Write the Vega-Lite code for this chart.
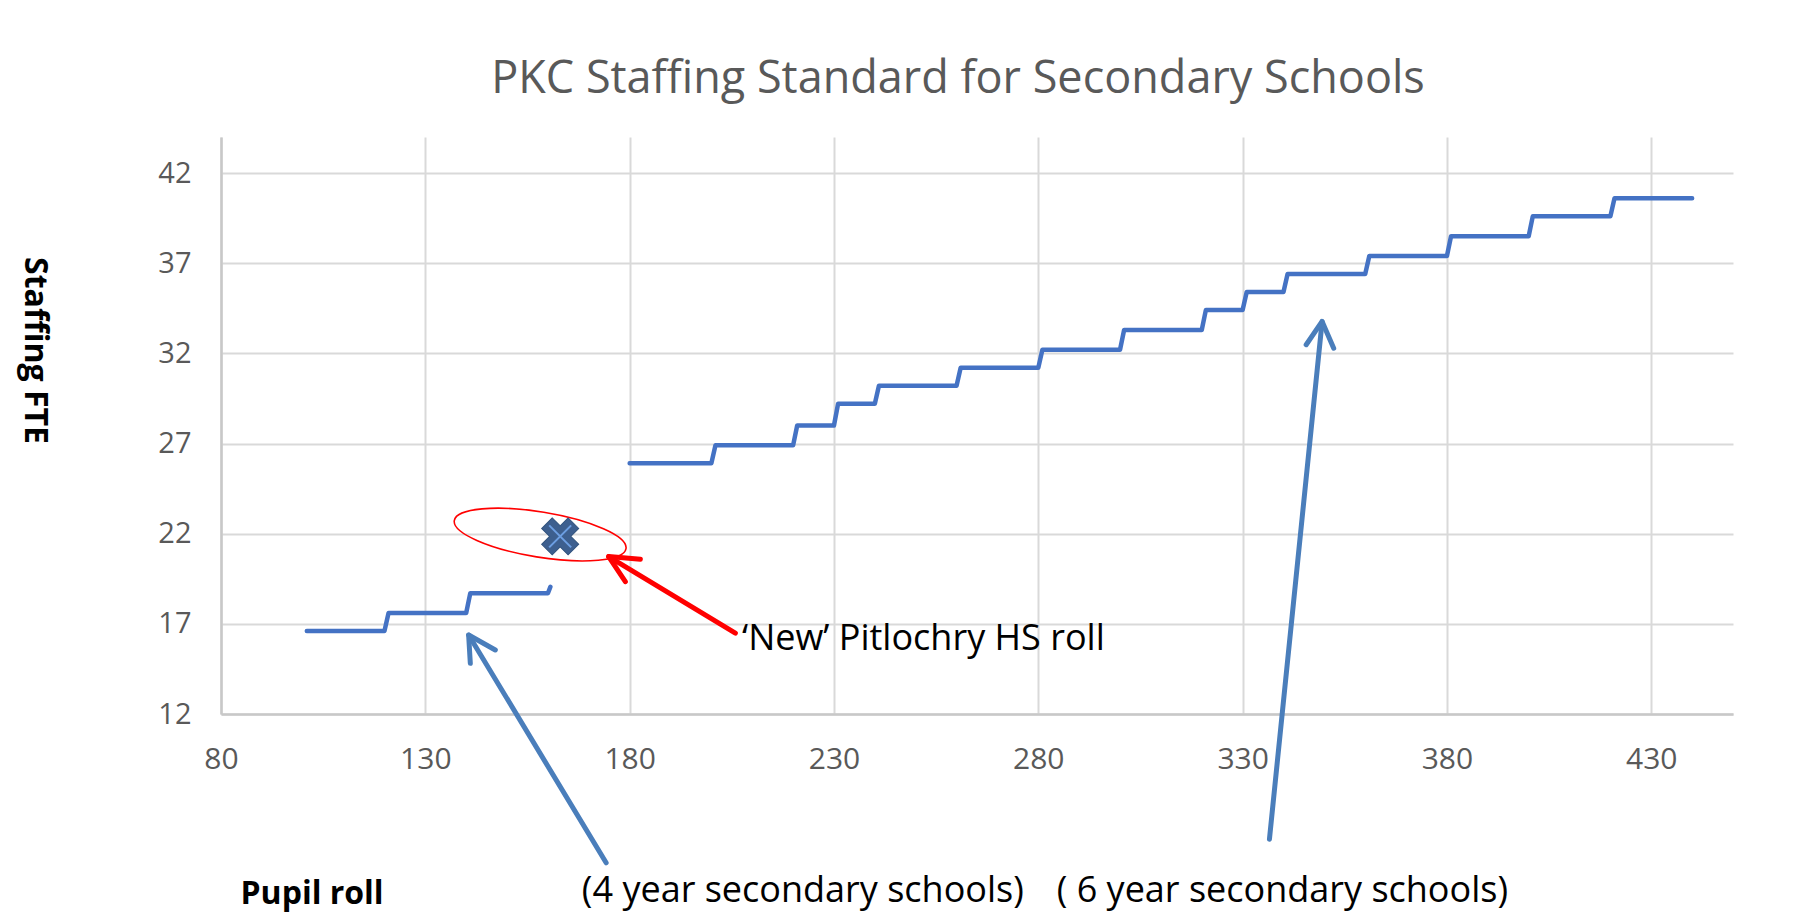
{
  "$schema": "https://vega.github.io/schema/vega-lite/v6.json",
  "width": 1512,
  "height": 577,
  "autosize": {"type": "none"},
  "padding": {"left": 221, "top": 137, "right": 69, "bottom": 201},
  "background": "white",
  "config": {"view": {"stroke": null}, "font": "Open Sans"},
  "title": {
    "text": "PKC Staffing Standard for Secondary Schools",
    "font": "Open Sans",
    "fontSize": 45,
    "fontWeight": "normal",
    "color": "#595959",
    "anchor": "middle",
    "frame": "group",
    "baseline": "alphabetic",
    "offset": -1,
    "dx": -19
  },
  "datasets": {
    "staffing": [
      {"series": "4 year secondary schools", "roll": 101, "fte": 16.6},
      {"series": "4 year secondary schools", "roll": 120, "fte": 16.6},
      {"series": "4 year secondary schools", "roll": 121, "fte": 17.6},
      {"series": "4 year secondary schools", "roll": 140, "fte": 17.6},
      {"series": "4 year secondary schools", "roll": 141, "fte": 18.7},
      {"series": "4 year secondary schools", "roll": 160, "fte": 18.7},
      {"series": "4 year secondary schools", "roll": 160.6, "fte": 19.05},
      {"series": "6 year secondary schools", "roll": 180, "fte": 25.9},
      {"series": "6 year secondary schools", "roll": 200, "fte": 25.9},
      {"series": "6 year secondary schools", "roll": 201, "fte": 26.9},
      {"series": "6 year secondary schools", "roll": 220, "fte": 26.9},
      {"series": "6 year secondary schools", "roll": 221, "fte": 28.0},
      {"series": "6 year secondary schools", "roll": 230, "fte": 28.0},
      {"series": "6 year secondary schools", "roll": 231, "fte": 29.2},
      {"series": "6 year secondary schools", "roll": 240, "fte": 29.2},
      {"series": "6 year secondary schools", "roll": 241, "fte": 30.2},
      {"series": "6 year secondary schools", "roll": 260, "fte": 30.2},
      {"series": "6 year secondary schools", "roll": 261, "fte": 31.2},
      {"series": "6 year secondary schools", "roll": 280, "fte": 31.2},
      {"series": "6 year secondary schools", "roll": 281, "fte": 32.2},
      {"series": "6 year secondary schools", "roll": 300, "fte": 32.2},
      {"series": "6 year secondary schools", "roll": 301, "fte": 33.3},
      {"series": "6 year secondary schools", "roll": 320, "fte": 33.3},
      {"series": "6 year secondary schools", "roll": 321, "fte": 34.4},
      {"series": "6 year secondary schools", "roll": 330, "fte": 34.4},
      {"series": "6 year secondary schools", "roll": 331, "fte": 35.4},
      {"series": "6 year secondary schools", "roll": 340, "fte": 35.4},
      {"series": "6 year secondary schools", "roll": 341, "fte": 36.4},
      {"series": "6 year secondary schools", "roll": 360, "fte": 36.4},
      {"series": "6 year secondary schools", "roll": 361, "fte": 37.4},
      {"series": "6 year secondary schools", "roll": 380, "fte": 37.4},
      {"series": "6 year secondary schools", "roll": 381, "fte": 38.5},
      {"series": "6 year secondary schools", "roll": 400, "fte": 38.5},
      {"series": "6 year secondary schools", "roll": 401, "fte": 39.6},
      {"series": "6 year secondary schools", "roll": 420, "fte": 39.6},
      {"series": "6 year secondary schools", "roll": 421, "fte": 40.6},
      {"series": "6 year secondary schools", "roll": 440, "fte": 40.6}
    ],
    "pitlochry": [
      {"school": "New Pitlochry HS", "roll": 163, "fte": 21.85}
    ],
    "highlight": [
      {"school": "New Pitlochry HS", "roll": 158.1, "fte": 21.95}
    ],
    "arrows": [
      {"arrow": "pitlochry", "segment": "p-shaft", "seq": 1, "roll": 205.87, "fte": 16.48},
      {"arrow": "pitlochry", "segment": "p-shaft", "seq": 2, "roll": 174.86, "fte": 20.73},
      {"arrow": "pitlochry", "segment": "p-head", "seq": 1, "roll": 182.62, "fte": 20.58},
      {"arrow": "pitlochry", "segment": "p-head", "seq": 2, "roll": 174.86, "fte": 20.73},
      {"arrow": "pitlochry", "segment": "p-head", "seq": 3, "roll": 178.95, "fte": 19.34},
      {"arrow": "four", "segment": "f-shaft", "seq": 1, "roll": 174.25, "fte": 3.75},
      {"arrow": "four", "segment": "f-shaft", "seq": 2, "roll": 140.6, "fte": 16.38},
      {"arrow": "four", "segment": "f-head", "seq": 1, "roll": 141.01, "fte": 14.81},
      {"arrow": "four", "segment": "f-head", "seq": 2, "roll": 140.6, "fte": 16.38},
      {"arrow": "four", "segment": "f-head", "seq": 3, "roll": 147.13, "fte": 15.55},
      {"arrow": "six", "segment": "s-shaft", "seq": 1, "roll": 336.56, "fte": 5.05},
      {"arrow": "six", "segment": "s-shaft", "seq": 2, "roll": 349.45, "fte": 33.77},
      {"arrow": "six", "segment": "s-head", "seq": 1, "roll": 345.55, "fte": 32.48},
      {"arrow": "six", "segment": "s-head", "seq": 2, "roll": 349.45, "fte": 33.77},
      {"arrow": "six", "segment": "s-head", "seq": 3, "roll": 352.29, "fte": 32.29}
    ],
    "notes": [
      {"note": "‘New’ Pitlochry HS roll", "roll": 207.5, "fte": 15.55},
      {"note": "(4 year secondary schools)", "roll": 168.3, "fte": 1.57},
      {"note": "( 6 year secondary schools)", "roll": 284.5, "fte": 1.57}
    ]
  },
  "encoding": {
    "x": {
      "field": "roll",
      "type": "quantitative",
      "scale": {"domain": [80, 450], "nice": false, "zero": false},
      "axis": {
        "title": "Pupil roll",
        "values": [80, 130, 180, 230, 280, 330, 380, 430],
        "grid": true,
        "gridColor": "#D9D9D9",
        "gridWidth": 2,
        "domainColor": "#C8C8C8",
        "domainWidth": 2.5,
        "ticks": false,
        "tickSize": 0,
        "labelFont": "Open Sans",
        "labelFontSize": 30,
        "labelColor": "#595959",
        "labelPadding": 30,
        "labelFlush": false,
        "labelOverlap": false,
        "titleFont": "Open Sans",
        "titleFontSize": 32,
        "titleFontWeight": "bold",
        "titleColor": "#000000",
        "titleX": 19,
        "titleY": 189,
        "titleAlign": "left",
        "titleBaseline": "alphabetic"
      }
    },
    "y": {
      "field": "fte",
      "type": "quantitative",
      "scale": {"domain": [12, 44], "nice": false, "zero": false},
      "axis": {
        "title": "Staffing FTE",
        "values": [12, 17, 22, 27, 32, 37, 42],
        "grid": true,
        "gridColor": "#D9D9D9",
        "gridWidth": 2,
        "domainColor": "#C8C8C8",
        "domainWidth": 2.5,
        "ticks": false,
        "tickSize": 0,
        "labelFont": "Open Sans",
        "labelFontSize": 29,
        "labelColor": "#595959",
        "labelPadding": 30,
        "labelFlush": false,
        "labelOverlap": false,
        "titleFont": "Open Sans",
        "titleFontSize": 32,
        "titleFontWeight": "bold",
        "titleColor": "#000000",
        "titleAngle": 90,
        "titleX": -187,
        "titleY": 213,
        "titleAlign": "center",
        "titleBaseline": "middle"
      }
    }
  },
  "layer": [
    {
      "data": {"name": "staffing"},
      "mark": {"type": "line", "color": "#4472C4", "strokeWidth": 4.5, "strokeCap": "round", "strokeJoin": "round"},
      "encoding": {"detail": {"field": "series", "type": "nominal"}}
    },
    {
      "data": {"name": "arrows"},
      "mark": {"type": "line", "strokeWidth": 5, "strokeCap": "round", "strokeJoin": "round"},
      "encoding": {
        "detail": {"field": "segment", "type": "nominal"},
        "order": {"field": "seq", "type": "quantitative"},
        "color": {
          "field": "arrow",
          "type": "nominal",
          "scale": {"domain": ["pitlochry", "four", "six"], "range": ["#FF0000", "#4A7EBB", "#4A7EBB"]},
          "legend": null
        }
      }
    },
    {
      "data": {"name": "highlight"},
      "mark": {
        "type": "point",
        "shape": "M -1 0 C -1 -0.1436 -0.5523 -0.26 0 -0.26 C 0.5523 -0.26 1 -0.1436 1 0 C 1 0.1436 0.5523 0.26 0 0.26 C -0.5523 0.26 -1 0.1436 -1 0 Z",
        "size": 30276,
        "angle": 9.3,
        "filled": false,
        "stroke": "#FF0000",
        "strokeWidth": 1.6,
        "opacity": 1
      }
    },
    {
      "data": {"name": "pitlochry"},
      "mark": {"type": "point", "shape": "cross", "angle": 45, "size": 1400, "filled": true, "fill": "#3D5F8F", "stroke": "#34557F", "strokeWidth": 1, "opacity": 1}
    },
    {
      "data": {"name": "pitlochry"},
      "mark": {"type": "point", "shape": "M -1 -1 L 1 1 M -1 1 L 1 -1", "size": 484, "filled": false, "stroke": "#6D9FE3", "strokeWidth": 2, "opacity": 1}
    },
    {
      "data": {"name": "notes"},
      "mark": {"type": "text", "align": "left", "baseline": "alphabetic", "font": "Open Sans", "fontSize": 36, "color": "#000000"},
      "encoding": {"text": {"field": "note", "type": "nominal"}}
    }
  ]
}
